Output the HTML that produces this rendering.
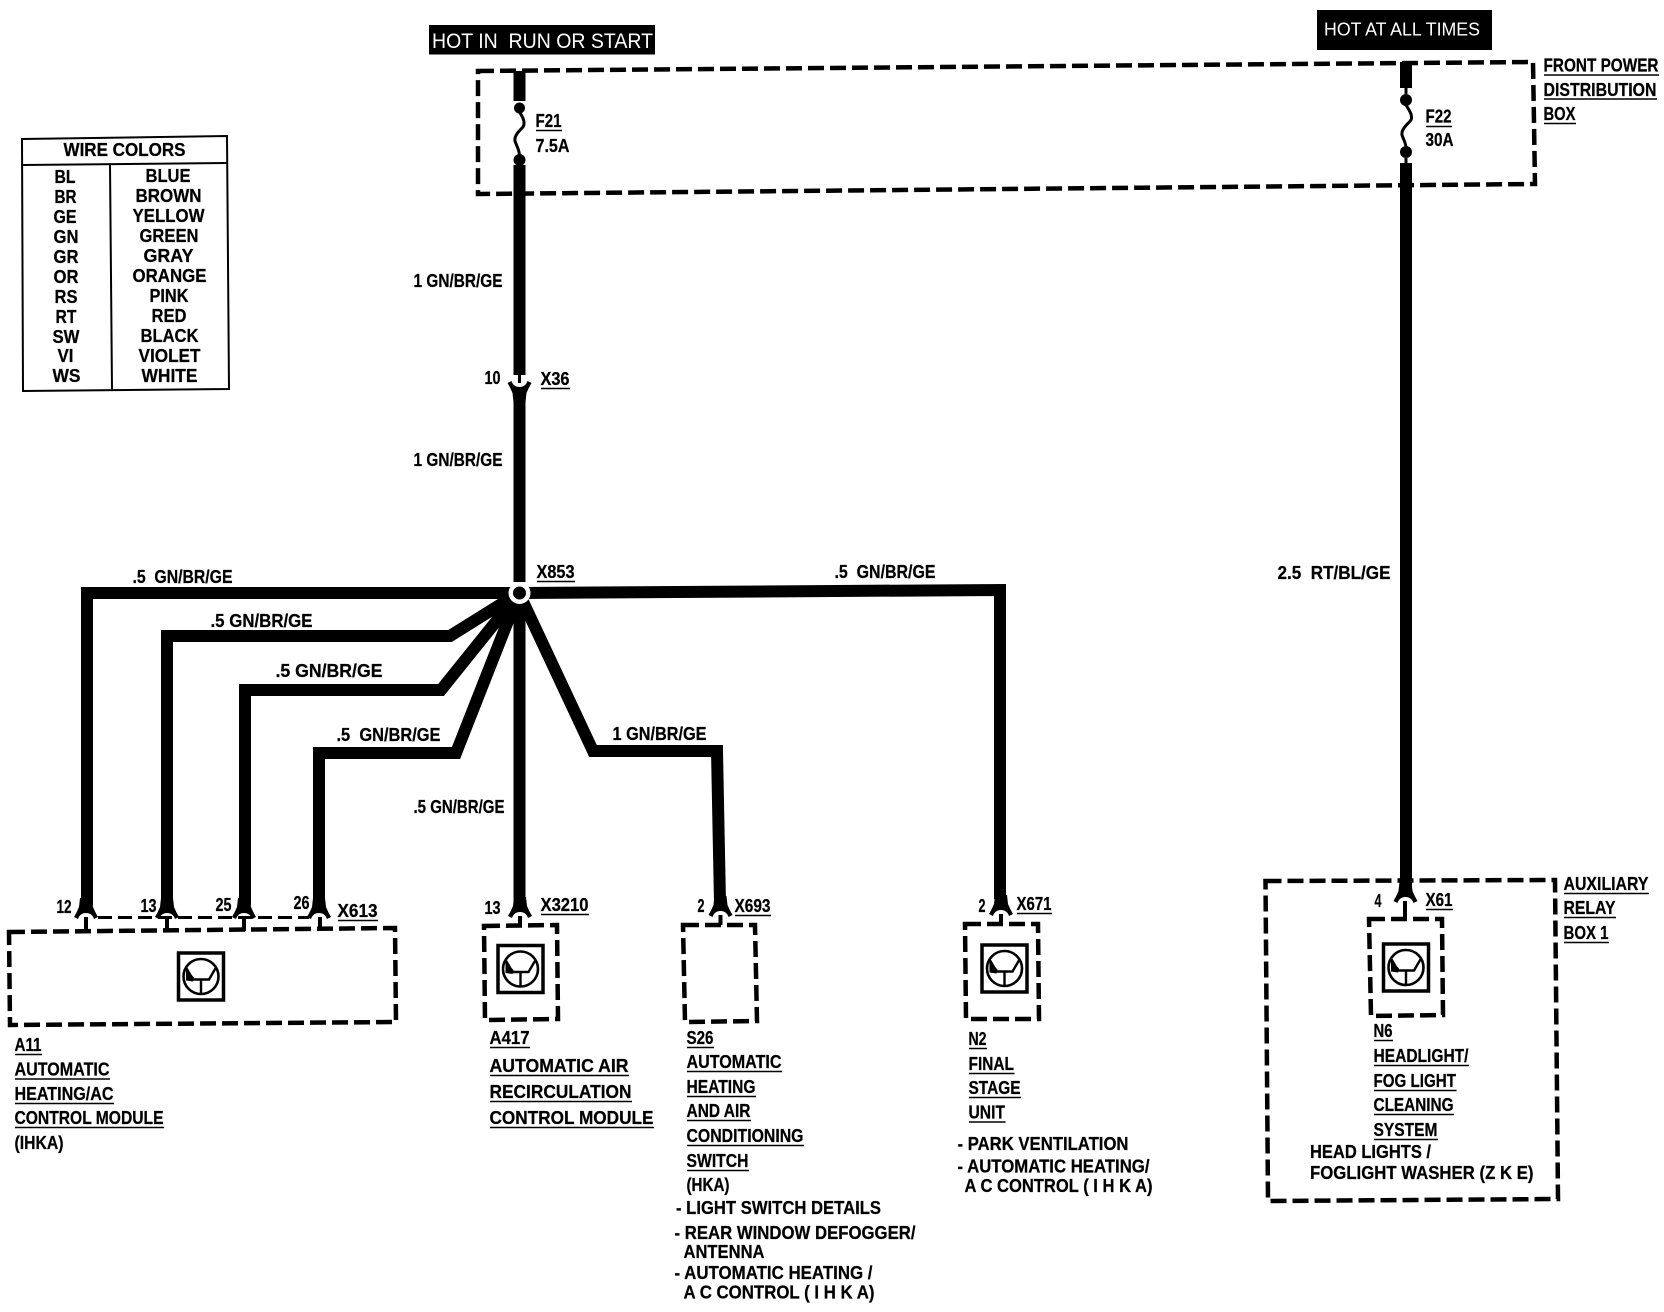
<!DOCTYPE html>
<html><head><meta charset="utf-8"><title>Wiring diagram</title>
<style>
html,body{margin:0;padding:0;background:#fff;width:1664px;height:1312px;overflow:hidden}
svg{display:block}
text{font-family:"Liberation Sans",sans-serif;font-weight:bold;font-size:18px;fill:#000;stroke:#000;stroke-width:.25;transform:translate(-.5px,-.8px)}
.w{fill:none;stroke:#000;stroke-width:12;stroke-linejoin:miter}
.d{fill:none;stroke:#000;stroke-width:4.5;stroke-dasharray:16 6}
.t{fill:none;stroke:#000;stroke-width:3}
.c{fill:none;stroke:#000;stroke-width:4}
.u{stroke:#000;stroke-width:1.6}
.n{stroke:#000;stroke-width:2;fill:none}
</style></head><body>
<svg width="1664" height="1312" viewBox="0 0 1664 1312" xmlns="http://www.w3.org/2000/svg">
<defs>
<g id="sym">
<rect x="-22.5" y="-23.5" width="45" height="47" fill="#fff" stroke="#000" stroke-width="3.5"/>
<circle r="17.5" fill="none" stroke="#000" stroke-width="2.6"/>
<path d="M-15 -9L-8 3H8L15 -9M0 3V18" fill="none" stroke="#000" stroke-width="2.4"/>
<path d="M-15 -7L-7 1L-8 5L-15 4Z" fill="#000"/>
</g>
<path id="hook" d="M-6 -12L6 -12L7 -3Q9 2 12 7L8 9Q6 3 0 3Q-6 3 -8 9L-12 7Q-9 2 -7 -3Z" fill="#000"/>
</defs>

<!-- header tags -->
<rect x="429" y="25" width="226" height="29.5" fill="#000"/>
<text x="432" y="48" style="fill:#fff;stroke:none;font-weight:normal;font-size:21px;transform:none" textLength="221" lengthAdjust="spacingAndGlyphs" xml:space="preserve">HOT IN  RUN OR START</text>
<rect x="1317" y="10" width="175" height="40" fill="#000"/>
<text x="1324" y="35.5" style="fill:#fff;stroke:none;font-weight:normal;transform:none" textLength="156" lengthAdjust="spacingAndGlyphs">HOT AT ALL TIMES</text>

<!-- dashed boxes -->
<path class="d" d="M478 71L1533 62L1535 184L478 194Z"/>
<path class="d" d="M9 932L395 928L396 1022L10 1025Z"/>
<path class="d" d="M484 926L557 925L558 1019L485 1020Z"/>
<path class="d" d="M683 925L755 925L757 1021L685 1022Z"/>
<path class="d" d="M965 924L1038 924L1039 1019L966 1019Z"/>
<path class="d" d="M1369 919L1442 919L1443 1015L1371 1016Z"/>
<path class="d" d="M1265.5 881L1555 880L1558 1199L1268 1201Z"/>

<!-- main wires -->
<path class="w" d="M519.5 71V101"/>
<path class="w" d="M519.5 165V375"/>
<path class="w" d="M519.5 388V582"/>
<path class="w" d="M519.5 593V905"/>
<path class="w" d="M519 593H87V905"/>
<path class="w" d="M519 593L450 636H167V905"/>
<path class="w" d="M519 593L441 690H245V905"/>
<path class="w" d="M519 593L456 753H319V905"/>
<path class="w" d="M519 593L593 751H717L720 903"/>
<path class="w" d="M519 593L1000 590V899"/>
<path class="w" d="M1406 62V88"/>
<path class="w" d="M1406 163V890"/>

<!-- node -->
<circle cx="519.5" cy="593" r="11" fill="#fff"/>
<circle cx="519.5" cy="593" r="6.5" fill="#000"/>

<!-- fuses -->
<circle cx="519.5" cy="108" r="5.5" fill="#000"/>
<circle cx="519.5" cy="160" r="6" fill="#000"/>
<path class="t" d="M519.5 112C522 116 526 122 523 127C519 131 514 136 515 141C517 147 519.5 150 519.5 156"/>
<circle cx="1406" cy="100" r="6" fill="#000"/>
<circle cx="1406" cy="152" r="6" fill="#000"/>
<path class="t" d="M1406 88V94M1406 158V163M1406 105C1409 110 1413 115 1411 120C1407 125 1401 129 1402 135C1404 141 1406 143 1406 148"/>

<!-- X36 -->
<path class="t" stroke-width="4" d="M519.5 375V383"/>
<use href="#hook" transform="translate(519.5 390) scale(1 -1)"/>

<!-- connector hooks -->
<use href="#hook" x="86" y="910"/>
<use href="#hook" x="167" y="910"/>
<use href="#hook" x="244" y="910"/>
<use href="#hook" x="319" y="910"/>
<path class="c" d="M86 917V932M167 917V931M244 917V931M320 917V930"/>
<path class="t" stroke-dasharray="14 6" d="M98 917.5H309"/>
<use href="#hook" x="520" y="909"/>
<path class="c" d="M520 916V926"/>
<use href="#hook" x="720.5" y="908"/>
<path class="c" d="M720.5 915V925"/>
<use href="#hook" x="1001" y="907"/>
<path class="c" d="M1001 914V924"/>
<use href="#hook" x="1405.5" y="894"/>
<path class="c" d="M1405 901V919"/>

<!-- module symbols -->
<use href="#sym" transform="translate(201 976.5)"/>
<use href="#sym" transform="translate(520.5 969)"/>
<use href="#sym" transform="translate(1004.5 968.5)"/>
<use href="#sym" transform="translate(1406 967.5)"/>

<!-- legend -->
<path class="n" d="M22 139L227 136L229 389L23 391Z"/>
<path class="n" d="M22 165L227 163"/>
<path class="n" d="M110 164L112 390"/>
<text x="64" y="157" textLength="122" lengthAdjust="spacingAndGlyphs">WIRE COLORS</text>
<text x="55" y="184" textLength="21" lengthAdjust="spacingAndGlyphs">BL</text>
<text x="55" y="204" textLength="22" lengthAdjust="spacingAndGlyphs">BR</text>
<text x="54" y="224" textLength="23" lengthAdjust="spacingAndGlyphs">GE</text>
<text x="54" y="244" textLength="25" lengthAdjust="spacingAndGlyphs">GN</text>
<text x="54" y="264" textLength="25" lengthAdjust="spacingAndGlyphs">GR</text>
<text x="54" y="284" textLength="25" lengthAdjust="spacingAndGlyphs">OR</text>
<text x="55" y="304" textLength="23" lengthAdjust="spacingAndGlyphs">RS</text>
<text x="56" y="324" textLength="21" lengthAdjust="spacingAndGlyphs">RT</text>
<text x="53" y="344" textLength="27" lengthAdjust="spacingAndGlyphs">SW</text>
<text x="58" y="363" textLength="16" lengthAdjust="spacingAndGlyphs">VI</text>
<text x="53" y="383" textLength="28" lengthAdjust="spacingAndGlyphs">WS</text>
<text x="146" y="183" textLength="45" lengthAdjust="spacingAndGlyphs">BLUE</text>
<text x="136" y="203" textLength="66" lengthAdjust="spacingAndGlyphs">BROWN</text>
<text x="133" y="223" textLength="72" lengthAdjust="spacingAndGlyphs">YELLOW</text>
<text x="140" y="243" textLength="59" lengthAdjust="spacingAndGlyphs">GREEN</text>
<text x="144" y="263" textLength="50" lengthAdjust="spacingAndGlyphs">GRAY</text>
<text x="133" y="283" textLength="74" lengthAdjust="spacingAndGlyphs">ORANGE</text>
<text x="150" y="303" textLength="39" lengthAdjust="spacingAndGlyphs">PINK</text>
<text x="152" y="323" textLength="35" lengthAdjust="spacingAndGlyphs">RED</text>
<text x="141" y="343" textLength="58" lengthAdjust="spacingAndGlyphs">BLACK</text>
<text x="139" y="363" textLength="62" lengthAdjust="spacingAndGlyphs">VIOLET</text>
<text x="142" y="383" textLength="56" lengthAdjust="spacingAndGlyphs">WHITE</text>

<!-- fuse labels -->
<text x="536" y="128" textLength="26" lengthAdjust="spacingAndGlyphs">F21</text><line class="u" x1="536" y1="130.5" x2="562" y2="130.5"/>
<text x="536" y="153" textLength="34" lengthAdjust="spacingAndGlyphs">7.5A</text>
<text x="1426" y="123.5" textLength="26" lengthAdjust="spacingAndGlyphs">F22</text><line class="u" x1="1426" y1="126.5" x2="1452" y2="126.5"/>
<text x="1426" y="147" textLength="28" lengthAdjust="spacingAndGlyphs">30A</text>
<text x="1544" y="72.5" textLength="115" lengthAdjust="spacingAndGlyphs">FRONT POWER</text><line class="u" x1="1544" y1="75" x2="1659" y2="75"/>
<text x="1544" y="97" textLength="113" lengthAdjust="spacingAndGlyphs">DISTRIBUTION</text><line class="u" x1="1544" y1="99" x2="1657" y2="99"/>
<text x="1544" y="121" textLength="32" lengthAdjust="spacingAndGlyphs">BOX</text><line class="u" x1="1544" y1="123.5" x2="1576" y2="123.5"/>

<!-- wire labels -->
<text x="414" y="288" textLength="89" lengthAdjust="spacingAndGlyphs">1 GN/BR/GE</text>
<text x="414" y="467" textLength="89" lengthAdjust="spacingAndGlyphs">1 GN/BR/GE</text>
<text x="485" y="385" textLength="16" lengthAdjust="spacingAndGlyphs">10</text>
<text x="541" y="386" textLength="29" lengthAdjust="spacingAndGlyphs">X36</text><line class="u" x1="541" y1="388.5" x2="570" y2="388.5"/>
<text x="537" y="579" textLength="38" lengthAdjust="spacingAndGlyphs">X853</text><line class="u" x1="537" y1="581.5" x2="575" y2="581.5"/>
<text x="133" y="584" textLength="100" lengthAdjust="spacingAndGlyphs" xml:space="preserve">.5  GN/BR/GE</text>
<text x="211" y="628" textLength="102" lengthAdjust="spacingAndGlyphs">.5 GN/BR/GE</text>
<text x="276" y="678" textLength="107" lengthAdjust="spacingAndGlyphs">.5 GN/BR/GE</text>
<text x="337" y="742" textLength="104" lengthAdjust="spacingAndGlyphs" xml:space="preserve">.5  GN/BR/GE</text>
<text x="414" y="814" textLength="91" lengthAdjust="spacingAndGlyphs">.5 GN/BR/GE</text>
<text x="613" y="741" textLength="94" lengthAdjust="spacingAndGlyphs">1 GN/BR/GE</text>
<text x="835" y="579" textLength="101" lengthAdjust="spacingAndGlyphs" xml:space="preserve">.5  GN/BR/GE</text>
<text x="1278" y="580" textLength="113" lengthAdjust="spacingAndGlyphs" xml:space="preserve">2.5  RT/BL/GE</text>

<!-- pin labels -->
<text x="57" y="914" textLength="15" lengthAdjust="spacingAndGlyphs">12</text>
<text x="141" y="913" textLength="16" lengthAdjust="spacingAndGlyphs">13</text>
<text x="216" y="912" textLength="16" lengthAdjust="spacingAndGlyphs">25</text>
<text x="294" y="910" textLength="16" lengthAdjust="spacingAndGlyphs">26</text>
<text x="338" y="918" textLength="40" lengthAdjust="spacingAndGlyphs">X613</text><line class="u" x1="338" y1="920.5" x2="378" y2="920.5"/>
<text x="485" y="915" textLength="16" lengthAdjust="spacingAndGlyphs">13</text>
<text x="541" y="912" textLength="48" lengthAdjust="spacingAndGlyphs">X3210</text><line class="u" x1="541" y1="914.5" x2="589" y2="914.5"/>
<text x="698" y="913" textLength="7" lengthAdjust="spacingAndGlyphs">2</text>
<text x="735" y="913" textLength="36" lengthAdjust="spacingAndGlyphs">X693</text><line class="u" x1="735" y1="915.5" x2="771" y2="915.5"/>
<text x="979" y="913" textLength="7" lengthAdjust="spacingAndGlyphs">2</text>
<text x="1017" y="911" textLength="35" lengthAdjust="spacingAndGlyphs">X671</text><line class="u" x1="1017" y1="913.5" x2="1052" y2="913.5"/>
<text x="1375" y="908" textLength="7" lengthAdjust="spacingAndGlyphs">4</text>
<text x="1426" y="907" textLength="27" lengthAdjust="spacingAndGlyphs">X61</text><line class="u" x1="1426" y1="909.5" x2="1453" y2="909.5"/>

<!-- A11 -->
<text x="15" y="1052" textLength="27" lengthAdjust="spacingAndGlyphs">A11</text><line class="u" x1="15" y1="1054.5" x2="42" y2="1054.5"/>
<text x="15" y="1076.5" textLength="95" lengthAdjust="spacingAndGlyphs">AUTOMATIC</text><line class="u" x1="15" y1="1079" x2="110" y2="1079"/>
<text x="15" y="1101" textLength="99" lengthAdjust="spacingAndGlyphs">HEATING/AC</text><line class="u" x1="15" y1="1103.5" x2="114" y2="1103.5"/>
<text x="15" y="1125" textLength="149" lengthAdjust="spacingAndGlyphs">CONTROL MODULE</text><line class="u" x1="15" y1="1127.5" x2="164" y2="1127.5"/>
<text x="15" y="1150" textLength="49" lengthAdjust="spacingAndGlyphs">(IHKA)</text>

<!-- A417 -->
<text x="490" y="1045" textLength="40" lengthAdjust="spacingAndGlyphs">A417</text><line class="u" x1="490" y1="1047.5" x2="530" y2="1047.5"/>
<text x="490" y="1073" textLength="139" lengthAdjust="spacingAndGlyphs">AUTOMATIC AIR</text><line class="u" x1="490" y1="1075.5" x2="629" y2="1075.5"/>
<text x="490" y="1099" textLength="142" lengthAdjust="spacingAndGlyphs">RECIRCULATION</text><line class="u" x1="490" y1="1101.5" x2="632" y2="1101.5"/>
<text x="490" y="1125" textLength="164" lengthAdjust="spacingAndGlyphs">CONTROL MODULE</text><line class="u" x1="490" y1="1127.5" x2="654" y2="1127.5"/>

<!-- S26 -->
<text x="687" y="1045" textLength="27" lengthAdjust="spacingAndGlyphs">S26</text><line class="u" x1="687" y1="1047.5" x2="714" y2="1047.5"/>
<text x="687" y="1069" textLength="95" lengthAdjust="spacingAndGlyphs">AUTOMATIC</text><line class="u" x1="687" y1="1071.5" x2="782" y2="1071.5"/>
<text x="687" y="1094" textLength="69" lengthAdjust="spacingAndGlyphs">HEATING</text><line class="u" x1="687" y1="1096.5" x2="756" y2="1096.5"/>
<text x="687" y="1118" textLength="64" lengthAdjust="spacingAndGlyphs">AND AIR</text><line class="u" x1="687" y1="1120.5" x2="751" y2="1120.5"/>
<text x="687" y="1143" textLength="117" lengthAdjust="spacingAndGlyphs">CONDITIONING</text><line class="u" x1="687" y1="1145.5" x2="804" y2="1145.5"/>
<text x="687" y="1168" textLength="62" lengthAdjust="spacingAndGlyphs">SWITCH</text><line class="u" x1="687" y1="1170.5" x2="749" y2="1170.5"/>
<text x="687" y="1192" textLength="43" lengthAdjust="spacingAndGlyphs">(HKA)</text>
<text x="676.5" y="1215" textLength="205" lengthAdjust="spacingAndGlyphs">- LIGHT SWITCH DETAILS</text>
<text x="675" y="1240" textLength="241" lengthAdjust="spacingAndGlyphs">- REAR WINDOW DEFOGGER/</text>
<text x="684" y="1259" textLength="81" lengthAdjust="spacingAndGlyphs">ANTENNA</text>
<text x="675" y="1280" textLength="198" lengthAdjust="spacingAndGlyphs">- AUTOMATIC HEATING /</text>
<text x="684" y="1299.5" textLength="191" lengthAdjust="spacingAndGlyphs">A C CONTROL ( I H K A)</text>

<!-- N2 -->
<text x="969" y="1046" textLength="18" lengthAdjust="spacingAndGlyphs">N2</text><line class="u" x1="969" y1="1048.5" x2="987" y2="1048.5"/>
<text x="969" y="1071" textLength="45.5" lengthAdjust="spacingAndGlyphs">FINAL</text><line class="u" x1="969" y1="1073.5" x2="1014.5" y2="1073.5"/>
<text x="969" y="1095" textLength="52" lengthAdjust="spacingAndGlyphs">STAGE</text><line class="u" x1="969" y1="1097.5" x2="1021" y2="1097.5"/>
<text x="969" y="1119.5" textLength="36.5" lengthAdjust="spacingAndGlyphs">UNIT</text><line class="u" x1="969" y1="1122" x2="1005.5" y2="1122"/>
<text x="958" y="1151" textLength="171" lengthAdjust="spacingAndGlyphs">- PARK VENTILATION</text>
<text x="958" y="1173.5" textLength="192" lengthAdjust="spacingAndGlyphs">- AUTOMATIC HEATING/</text>
<text x="965" y="1193" textLength="188" lengthAdjust="spacingAndGlyphs">A C CONTROL ( I H K A)</text>

<!-- N6 -->
<text x="1374" y="1038" textLength="19" lengthAdjust="spacingAndGlyphs">N6</text><line class="u" x1="1374" y1="1040.5" x2="1393" y2="1040.5"/>
<text x="1374" y="1063" textLength="95" lengthAdjust="spacingAndGlyphs">HEADLIGHT/</text><line class="u" x1="1374" y1="1065.5" x2="1469" y2="1065.5"/>
<text x="1374" y="1088" textLength="82.5" lengthAdjust="spacingAndGlyphs">FOG LIGHT</text><line class="u" x1="1374" y1="1090.5" x2="1456.5" y2="1090.5"/>
<text x="1374" y="1112" textLength="80" lengthAdjust="spacingAndGlyphs">CLEANING</text><line class="u" x1="1374" y1="1114.5" x2="1454" y2="1114.5"/>
<text x="1374" y="1137" textLength="64" lengthAdjust="spacingAndGlyphs">SYSTEM</text><line class="u" x1="1374" y1="1139.5" x2="1438" y2="1139.5"/>
<text x="1310.5" y="1159" textLength="121" lengthAdjust="spacingAndGlyphs">HEAD LIGHTS /</text>
<text x="1310.5" y="1180" textLength="223.5" lengthAdjust="spacingAndGlyphs">FOGLIGHT WASHER (Z K E)</text>

<text x="1564" y="891" textLength="85" lengthAdjust="spacingAndGlyphs">AUXILIARY</text><line class="u" x1="1564" y1="893.5" x2="1649" y2="893.5"/>
<text x="1564" y="915" textLength="52" lengthAdjust="spacingAndGlyphs">RELAY</text><line class="u" x1="1564" y1="917.5" x2="1616" y2="917.5"/>
<text x="1564" y="940" textLength="45" lengthAdjust="spacingAndGlyphs">BOX 1</text><line class="u" x1="1564" y1="942.5" x2="1609" y2="942.5"/>
</svg>
</body></html>
